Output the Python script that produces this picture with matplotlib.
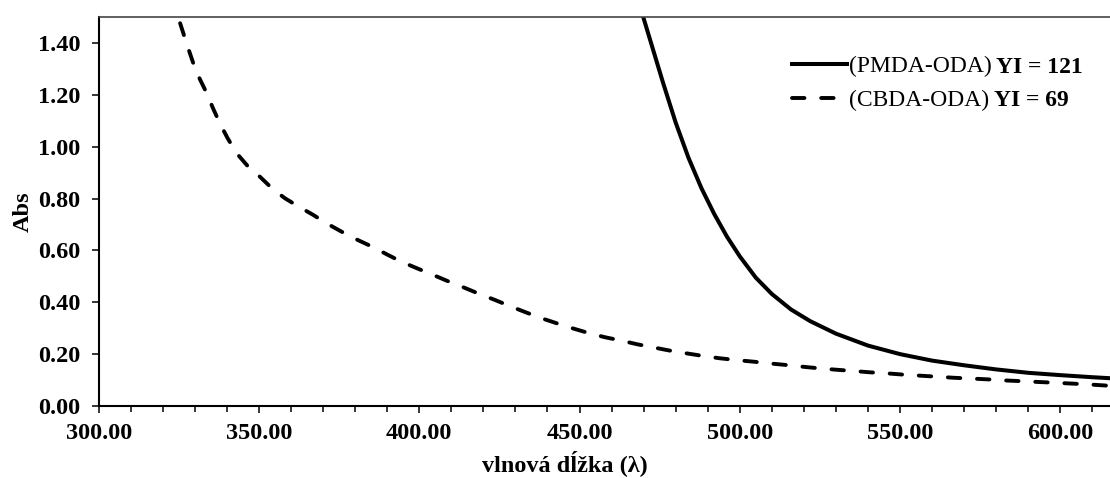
import matplotlib.pyplot as plt
import matplotlib.ticker as mticker

plt.rcParams['font.family'] = ['Liberation Serif', 'DejaVu Serif']

# PMDA-ODA (solid)
pmda_x = [470, 473, 476, 480, 484, 488, 492, 496, 500, 505, 510, 516, 522, 530,
          540, 550, 560, 570, 580, 590, 600, 610, 620]
pmda_y = [1.495, 1.372, 1.249, 1.093, 0.957, 0.841, 0.741, 0.653, 0.577, 0.495,
          0.432, 0.372, 0.327, 0.279, 0.233, 0.200, 0.175, 0.157, 0.141, 0.128,
          0.119, 0.111, 0.104]

# CBDA-ODA (dashed)
cbda_x = [325.4, 327.5, 329.5, 331.5, 333.7, 335.7, 337.8, 340.2, 343.0, 346.5,
          350.3, 354.0, 358.1, 362.5, 366.9, 371.0, 375.8, 380.5, 385.7, 390.0,
          394.5, 399.5, 404.4, 409.0, 413.7, 418.6, 423.6, 428.5, 433.5, 438.0,
          442.9, 448.0, 453.2, 458.0, 463.1, 468.0, 473.0, 478.0, 483.4, 488.5,
          493.8, 499.0, 504.2, 509.5, 514.6, 520.0, 525.0, 530.0, 535.4, 540.5,
          545.8, 551.0, 556.2, 561.5, 566.6, 571.8, 577.0, 582.0, 587.4, 592.5,
          597.8, 602.7, 607.6, 611.5, 615.4, 620.0]
cbda_y = [1.476, 1.395, 1.322, 1.262, 1.206, 1.147, 1.090, 1.033, 0.975, 0.925,
          0.884, 0.840, 0.801, 0.768, 0.737, 0.705, 0.672, 0.642, 0.612, 0.584,
          0.556, 0.530, 0.505, 0.481, 0.458, 0.433, 0.409, 0.384, 0.360, 0.339,
          0.319, 0.299, 0.280, 0.265, 0.252, 0.238, 0.226, 0.214, 0.203, 0.193,
          0.184, 0.177, 0.171, 0.164, 0.158, 0.151, 0.145, 0.140, 0.135, 0.130,
          0.126, 0.121, 0.117, 0.113, 0.109, 0.106, 0.103, 0.099, 0.096, 0.093,
          0.090, 0.087, 0.084, 0.081, 0.078, 0.076]

names = ['(PMDA-ODA)', '(CBDA-ODA)']
yi_labels = ['YI = 121', 'YI = 69']

fig = plt.figure(figsize=(11.1, 4.78), dpi=100)
ax = fig.add_axes([98.7 / 1110, 72 / 478, 1 - 98.7 / 1110, (406 - 17) / 478])

ax.plot(pmda_x, pmda_y, color='black', lw=2.9, label=names[0])
ax.plot(cbda_x, cbda_y, color='black', lw=2.8, dashes=(3.2, 4.3),
        dash_capstyle='round', label=names[1])

ax.set_xlim(300, 615.5)
ax.set_ylim(0, 1.5)
ax.xaxis.set_major_locator(mticker.MultipleLocator(50))
ax.xaxis.set_minor_locator(mticker.MultipleLocator(10))
ax.yaxis.set_major_locator(mticker.FixedLocator([0, 0.2, 0.4, 0.6, 0.8, 1.0, 1.2, 1.4]))
ax.xaxis.set_major_formatter(mticker.FormatStrFormatter('%.2f'))
ax.yaxis.set_major_formatter(mticker.FormatStrFormatter('%.2f'))

ax.tick_params(which='both', direction='out', width=1.1, labelsize=17.5)
ax.tick_params(axis='y', pad=8)
ax.tick_params(axis='x', pad=7)
ax.tick_params(which='major', length=5)
ax.tick_params(which='minor', length=4)
for lab in ax.get_xticklabels() + ax.get_yticklabels():
    lab.set_fontweight('bold')

for s in ['left', 'bottom']:
    ax.spines[s].set_linewidth(1.5)
ax.spines['top'].set_linewidth(1.2)
ax.spines['top'].set_color('#444444')
ax.spines['right'].set_visible(False)

ax.set_xlabel('vlnová dĺžka (λ)', fontsize=17.5, fontweight='bold', va='center')
ax.xaxis.set_label_coords(0.461, -0.147)
ax.set_ylabel('Abs', fontsize=17.5, fontweight='bold')
ax.yaxis.set_label_coords(-0.064, 0.5)

leg = ax.legend(loc='upper left', bbox_to_anchor=(792 / 1110, 1 - 56 / 478),
                bbox_transform=fig.transFigure, frameon=False, fontsize=17,
                handlelength=2.35, handletextpad=0.05, borderpad=0, borderaxespad=0,
                labelspacing=0.5)

# bold "YI = ..." part after each legend entry, on the same baseline
fig.canvas.draw()
renderer = fig.canvas.get_renderer()
for t, yi in zip(leg.get_texts(), yi_labels):
    bb = t.get_window_extent(renderer)
    base_y = t.get_transform().transform(t.get_position())[1]
    fig.text(bb.x1 + 5, base_y, yi, fontsize=17, fontweight='bold',
             va='baseline', ha='left', transform=None)

fig.savefig('out.png', dpi=100)
